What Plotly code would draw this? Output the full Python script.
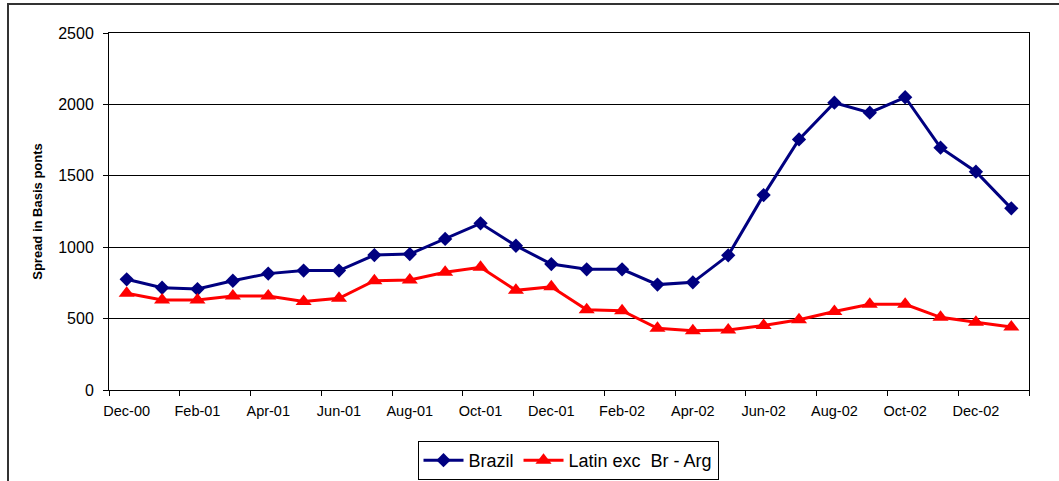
import plotly.graph_objects as go

months = ["Dec-00", "Jan-01", "Feb-01", "Mar-01", "Apr-01", "May-01", "Jun-01",
          "Jul-01", "Aug-01", "Sep-01", "Oct-01", "Nov-01", "Dec-01",
          "Jan-02", "Feb-02", "Mar-02", "Apr-02", "May-02", "Jun-02",
          "Jul-02", "Aug-02", "Sep-02", "Oct-02", "Nov-02", "Dec-02", "Jan-03"]
brazil = [775, 716, 707, 765, 815, 836, 836, 945, 952, 1058, 1167, 1010, 882,
          845, 845, 738, 754, 943, 1365, 1755, 2012, 1942, 2050, 1697, 1529, 1272]
latin = [678, 630, 630, 658, 658, 620, 642, 765, 770, 824, 859, 698, 723,
         562, 555, 432, 415, 420, 452, 492, 550, 600, 600, 509, 474, 441]

fig = go.Figure()
fig.add_trace(go.Scatter(
    x=months, y=brazil, name="Brazil", mode="lines+markers",
    line=dict(color="#000080", width=3),
    marker=dict(symbol="diamond", size=11, color="#000080"),
))
fig.add_trace(go.Scatter(
    x=months, y=latin, name="Latin exc  Br - Arg", mode="lines+markers",
    line=dict(color="#FF0000", width=3),
    marker=dict(symbol="triangle-up", size=14, color="#FF0000"),
))

L, R, T, B = 109, 30, 33, 91
W, H = 1059, 481
pw, ph = W - L - R, H - T - B

fig.update_layout(
    width=W, height=H,
    margin=dict(l=L, r=R, t=T, b=B, autoexpand=False),
    paper_bgcolor="white", plot_bgcolor="white",
    font=dict(family="Arial, Liberation Sans, sans-serif", color="black"),
    showlegend=True,
    legend=dict(
        orientation="h", x=(568 - L) / pw, xanchor="center",
        y=(H - B - 441) / ph, yanchor="top",
        bordercolor="black", borderwidth=1, bgcolor="white",
        font=dict(size=18), tracegroupgap=0, itemwidth=40,
    ),
    xaxis=dict(
        type="category", categoryorder="array", categoryarray=months,
        tickmode="linear", dtick=2, tick0=0, tickangle=0,
        tickson="boundaries", ticks="outside", ticklen=5, tickcolor="black",
        ticklabelstandoff=8,
        showline=True, linecolor="black", linewidth=1, mirror=True,
        showgrid=False, tickfont=dict(size=14.5), range=[-0.5, 25.5],
        automargin=False,
    ),
    yaxis=dict(
        range=[0, 2500], dtick=500, tickmode="linear",
        ticks="outside", ticklen=5, tickcolor="black", ticklabelstandoff=6,
        showline=True, linecolor="black", linewidth=1, mirror=True,
        showgrid=True, gridcolor="black", gridwidth=1, zeroline=False,
        tickfont=dict(size=16), automargin=False,
        title=dict(text="<b>Spread in Basis ponts</b>", font=dict(size=13), standoff=12),
    ),
    shapes=[dict(
        type="rect", xref="paper", yref="paper",
        x0=(8 - L) / pw, x1=(W + 20 - L) / pw,
        y0=(H - B - (H + 20)) / ph, y1=(H - B - 4) / ph,
        line=dict(color="#333333", width=2), layer="below",
    )],
)

fig.write_html(
    "out.html",
    config={"displayModeBar": False},
    post_script="document.body.style.margin='0';document.body.style.overflow='hidden';",
)
